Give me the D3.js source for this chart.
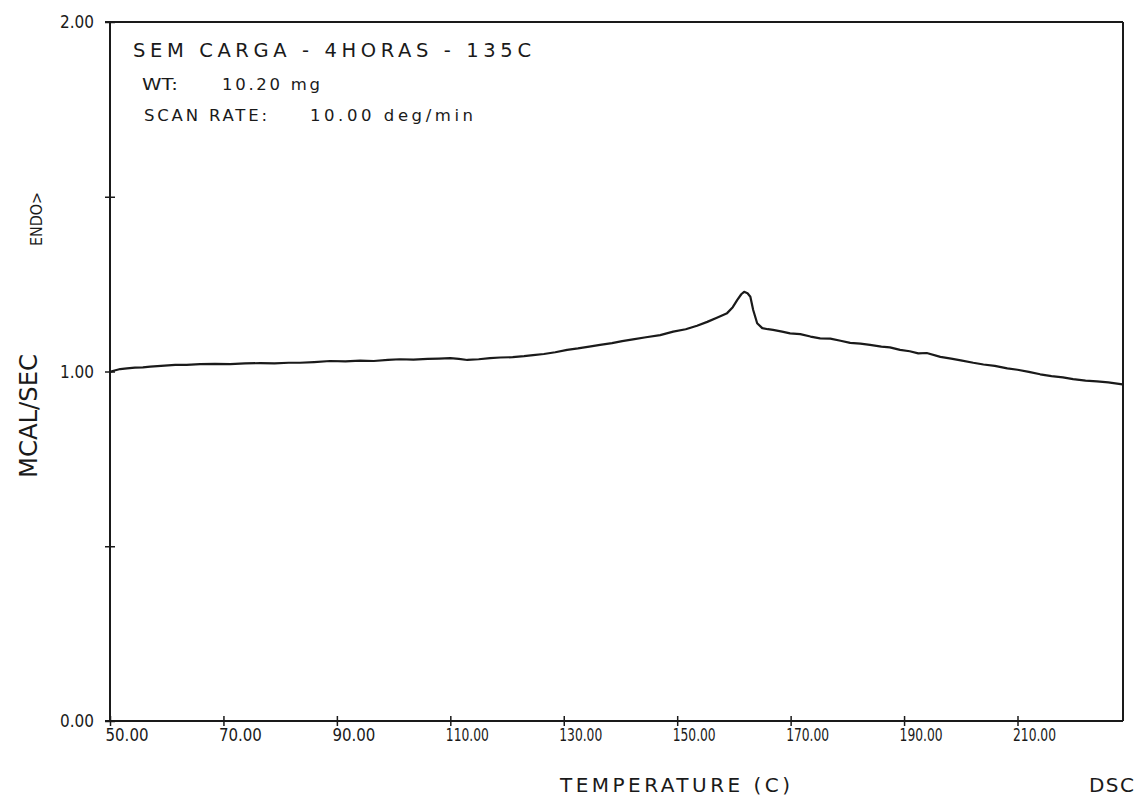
<!DOCTYPE html>
<html><head><meta charset="utf-8">
<script src="https://cdn.jsdelivr.net/npm/d3@7"></script>
<style>
body{margin:0;background:#fff}
svg{display:block}
text{fill:#1a1a1a;font-family:"DejaVu Sans","Liberation Sans",sans-serif}
</style>
</head><body><svg id="c" width="1142" height="802"></svg>
<script>
// ---- data ----
const temperature = [50.0,50.8,51.8,53.0,54.4,55.8,57.1,59.0,61.5,63.5,65.9,68.5,71.2,73.8,76.5,79.0,81.5,83.5,86.0,88.8,91.5,94.1,96.5,99.0,101.1,103.5,106.0,108.0,110.0,111.5,113.0,115.0,117.0,118.8,121.0,123.0,124.6,126.5,128.5,130.6,132.5,134.5,136.4,138.5,140.3,142.2,144.5,147.0,149.3,151.5,153.5,155.3,157.0,158.8,159.8,160.6,161.3,161.8,162.4,162.9,163.4,164.1,165.0,166.0,166.9,168.5,169.9,171.7,173.5,175.2,177.0,178.8,180.5,182.3,184.0,186.0,187.5,189.3,191.0,192.5,194.0,196.4,198.3,200.0,202.2,204.0,206.0,208.2,210.0,212.0,214.0,216.0,218.0,219.8,222.0,224.0,226.0,228.5];
const heatFlow = [0.999,1.003,1.007,1.009,1.011,1.012,1.014,1.016,1.019,1.019,1.021,1.022,1.021,1.023,1.024,1.023,1.025,1.025,1.027,1.030,1.029,1.031,1.030,1.033,1.035,1.034,1.036,1.037,1.038,1.036,1.033,1.035,1.038,1.040,1.041,1.044,1.047,1.050,1.055,1.062,1.066,1.071,1.076,1.081,1.087,1.092,1.098,1.104,1.114,1.121,1.131,1.142,1.154,1.167,1.184,1.205,1.221,1.228,1.224,1.214,1.176,1.138,1.124,1.121,1.119,1.114,1.109,1.107,1.100,1.095,1.094,1.088,1.082,1.080,1.076,1.071,1.069,1.062,1.058,1.052,1.053,1.042,1.037,1.032,1.025,1.020,1.016,1.009,1.005,0.999,0.992,0.987,0.983,0.978,0.974,0.972,0.969,0.963];
const xTicks = [50,70,90,110,130,150,170,190,210];
const yTicks = [0,0.5,1,1.5,2];
const yLabelled = [0,1,2];
const xDomain = [50,228.6];
const yDomain = [0,2];
const titleText = "SEM CARGA - 4HORAS - 135C";
const infoLabels = ["WT:", "SCAN RATE:"];
const infoValues = ["10.20 mg", "10.00 deg/min"];
const xTitle = "TEMPERATURE (C)";
const yTitle = "MCAL/SEC";
const endoLabel = "ENDO>";
const cornerLabel = "DSC";

// ---- layout ----
const svg = d3.select("#c");
const L = 110, R = 1123, T = 22, B = 721;
const x = d3.scaleLinear().domain(xDomain).range([L, R]);
const y = d3.scaleLinear().domain(yDomain).range([B, T]);
const ink = "#1a1a1a";
const tickFont = '"DejaVu Sans Condensed","DejaVu Sans",sans-serif';

// bottom axis
const gx = svg.append("g").attr("transform", `translate(0,${B})`)
  .call(d3.axisBottom(x).tickValues(xTicks).tickSizeOuter(0).tickFormat(d3.format(".2f")));
gx.select(".domain").attr("stroke", ink).attr("stroke-width", 2).attr("d", `M${L - 5},0H${R}`);
gx.selectAll(".tick line").attr("stroke", ink).attr("stroke-width", 1.5).attr("y1", -5).attr("y2", 5);
gx.selectAll(".tick text").attr("text-anchor", "start").attr("x", -5).attr("y", 19.5).attr("dy", null)
  .attr("font-size", 17.5).attr("font-family", tickFont).attr("fill", ink)
  .attr("textLength", 43).attr("lengthAdjust", "spacingAndGlyphs");

// left axis
const gy = svg.append("g").attr("transform", `translate(${L},0)`)
  .call(d3.axisLeft(y).tickValues(yTicks).tickSizeOuter(0)
    .tickFormat(d => yLabelled.includes(d) ? d3.format(".2f")(d) : ""));
gy.select(".domain").attr("stroke", ink).attr("stroke-width", 2).attr("d", `M0,${B}V${T}`);
gy.selectAll(".tick line").attr("stroke", ink).attr("stroke-width", 1.5).attr("x1", -5).attr("x2", 5);
gy.selectAll(".tick text").attr("text-anchor", "end").attr("x", -16).attr("dy", "0.35em")
  .attr("font-size", 17).attr("font-family", tickFont).attr("fill", ink)
  .attr("textLength", 34).attr("lengthAdjust", "spacingAndGlyphs");

// top and right frame
svg.append("line").attr("x1", x(xDomain[0]) - 5).attr("x2", x(xDomain[1])).attr("y1", y(yDomain[1])).attr("y2", y(yDomain[1]))
  .attr("stroke", ink).attr("stroke-width", 2);
svg.append("line").attr("x1", x(xDomain[1])).attr("x2", x(xDomain[1])).attr("y1", y(yDomain[1])).attr("y2", y(yDomain[0]))
  .attr("stroke", ink).attr("stroke-width", 2);

// curve
const line = d3.line().x((d, i) => x(temperature[i])).y(d => y(d));
svg.append("path").datum(heatFlow).attr("d", line)
  .attr("fill", "none").attr("stroke", ink).attr("stroke-width", 2.2).attr("stroke-linejoin", "round");

// annotation text
svg.append("text").attr("x", 133).attr("y", 57).attr("font-size", 19.5)
  .attr("textLength", 398).attr("lengthAdjust", "spacing").text(titleText);
svg.append("text").attr("x", 142).attr("y", 90).attr("font-size", 16.5)
  .attr("textLength", 36).attr("lengthAdjust", "spacingAndGlyphs").text(infoLabels[0]);
svg.append("text").attr("x", 222).attr("y", 90).attr("font-size", 16.5)
  .attr("textLength", 98).attr("lengthAdjust", "spacing").text(infoValues[0]);
svg.append("text").attr("x", 144).attr("y", 121).attr("font-size", 16.5)
  .attr("textLength", 123).attr("lengthAdjust", "spacing").text(infoLabels[1]);
svg.append("text").attr("x", 310).attr("y", 121).attr("font-size", 16.5)
  .attr("textLength", 163).attr("lengthAdjust", "spacing").text(infoValues[1]);

// axis titles
svg.append("text").attr("transform", "translate(37,416) rotate(-90)").attr("text-anchor", "middle")
  .attr("font-size", 24).attr("textLength", 124).attr("lengthAdjust", "spacingAndGlyphs").text(yTitle);
svg.append("text").attr("transform", "translate(42,219) rotate(-90)").attr("text-anchor", "middle")
  .attr("font-size", 15).attr("textLength", 54).attr("lengthAdjust", "spacingAndGlyphs").text(endoLabel);
svg.append("text").attr("x", 560).attr("y", 792).attr("font-size", 20)
  .attr("textLength", 230).attr("lengthAdjust", "spacing").text(xTitle);
svg.append("text").attr("x", 1089).attr("y", 792).attr("font-size", 20)
  .attr("textLength", 45).attr("lengthAdjust", "spacing").text(cornerLabel);
</script>
</body></html>
